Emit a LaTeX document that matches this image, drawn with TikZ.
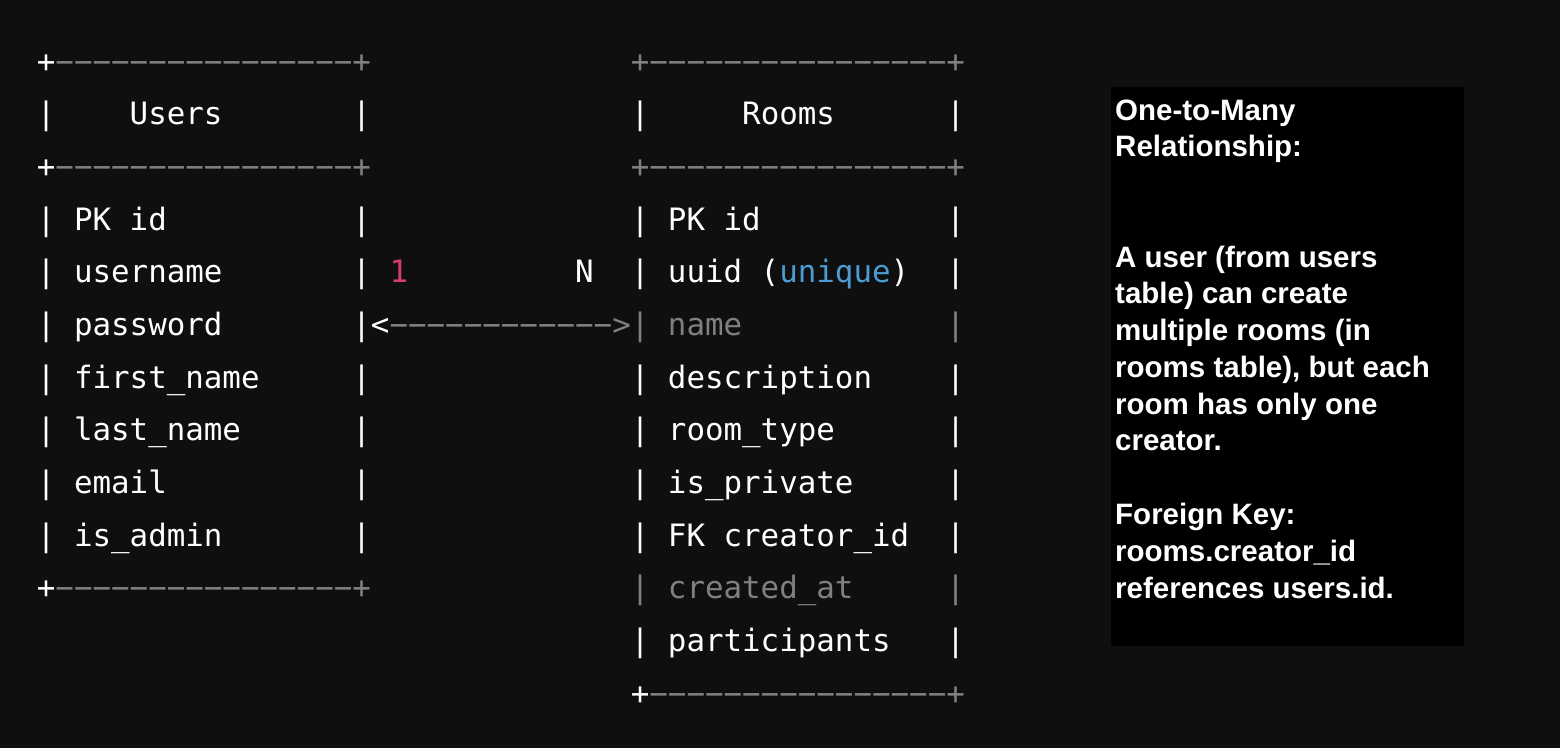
\documentclass[tikz,border=0pt]{standalone}
\usepackage{fontspec}
\setmainfont{Liberation Sans}
\newfontfamily\mono{DejaVu Sans Mono}[Ligatures=TeXOff]
\usetikzlibrary{positioning}

\definecolor{bgdark}{RGB}{15,15,15}
\definecolor{rulegray}{RGB}{128,128,128}
\definecolor{onepink}{RGB}{214,59,116}
\definecolor{keyblue}{RGB}{75,156,211}
\newcommand{\fade}[1]{\textcolor{rulegray}{#1}}
\newcommand{\barline}{−−−−−−−−−−−−−−−−}

\tikzset{
  ascii/.style={anchor=base west, inner sep=0pt, text=white,
    font=\mono\fontsize{30.83}{36}\selectfont},
  note/.style={anchor=base west, inner sep=0pt, text=white,
    font=\bfseries\fontsize{29.5}{36.8}\selectfont},
}

\begin{document}
\begin{tikzpicture}
    \fill[bgdark] (0,0) rectangle (1560pt,-748pt);
    \useasboundingbox (0,0) rectangle (1560pt,-748pt);

    % one column per character, one row per text line
    \begin{scope}[x=18.56pt, y=-52.67pt, shift={(36.7pt,-72pt)}]
    % users
    \node[ascii] (ub0) at (0,0) {+\fade{\barline+}};
    \node[ascii] (ul1) at (0,1) {|};
    \node[ascii] (users) at (5,1) {Users};
    \node[ascii] (ur1) at (17,1) {|};
    \node[ascii] (ub2) at (0,2) {+\fade{\barline+}};
    \foreach \r/\fld in {3/PK id, 4/username, 5/password, 6/first\_name,
        7/last\_name, 8/email, 9/is\_admin}{
        \node[ascii] (ul\r) at (0,\r) {|};
        \node[ascii] (uf\r) at (2,\r) {\fld};
        \node[ascii] (ur\r) at (17,\r) {|};
    };
    \node[ascii] (ub10) at (0,10) {+\fade{\barline+}};

    % rooms
    \node[ascii] (rb0) at (32,0) {\fade{+\barline+}};
    \node[ascii] (rl1) at (32,1) {|};
    \node[ascii] (rooms) at (38,1) {Rooms};
    \node[ascii] (rr1) at (49,1) {|};
    \node[ascii] (rb2) at (32,2) {\fade{+\barline+}};
    \foreach \r/\fld/\tone in {3/PK id/white,
        4/{uuid (\textcolor{keyblue}{unique})}/white, 5/name/rulegray,
        6/description/white, 7/room\_type/white, 8/is\_private/white,
        9/FK creator\_id/white, 10/created\_at/rulegray, 11/participants/white}{
        \node[ascii, text=\tone] (rl\r) at (32,\r) {|};
        \node[ascii, text=\tone] (rf\r) at (34,\r) {\fld};
        \node[ascii, text=\tone] (rr\r) at (49,\r) {|};
    };
    \node[ascii] (rb12) at (32,12) {+\fade{\barline+}};

    % relation
    \node[ascii, text=onepink] (one) at (19,4) {1};
    \node[ascii] (many) at (29,4) {N};
    \node[ascii] (link) at (18,5) {<\fade{−−−−−−−−−−−−>}};
    \end{scope}

    % note panel
    \fill[black] (1111pt,-87pt) rectangle (1464pt,-646pt);
    \foreach \k/\txt in {0/{One-to-Many}, 1/{Relationship:},
        4/{A user (from users}, 5/{table) can create},
        6/{multiple rooms (in}, 7/{rooms table), but each},
        8/{room has only one}, 9/{creator.},
        11/{Foreign Key:}, 12/{rooms.creator\_id},
        13/{references users.id.}}{
        \node[note] (note\k) at (1115pt,-120pt-\k*36.77pt) {\txt};
    };
\end{tikzpicture}
\end{document}
